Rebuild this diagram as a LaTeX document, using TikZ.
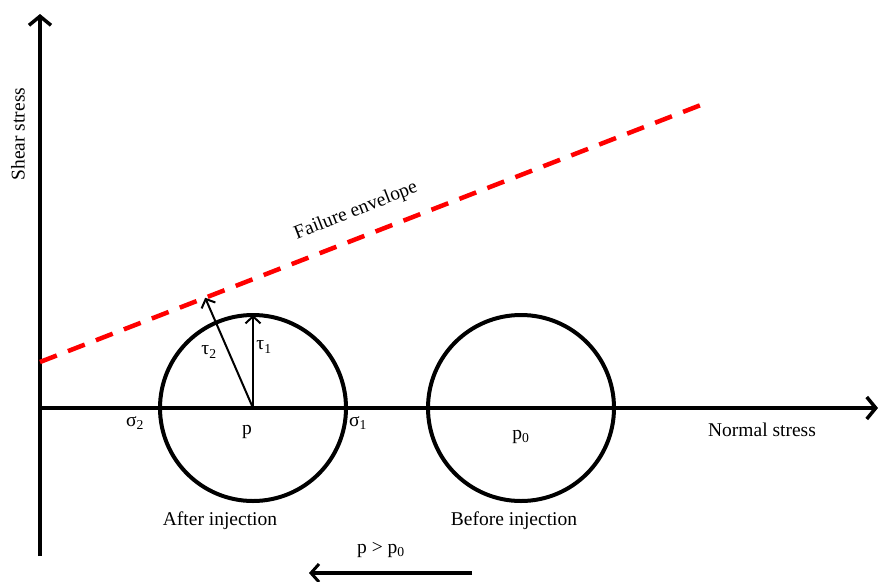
\documentclass[tikz,border=0pt]{standalone}
\usepackage{fontspec}
\setmainfont{Liberation Serif}
\usetikzlibrary{arrows.meta,calc}
\begin{document}
\begin{tikzpicture}[x=1pt,y=-1pt,
  axis/.style={line width=4pt,-{Straight Barb[length=9pt,width=22pt,line width=3.5pt]}},
  mohr/.style={circle,draw,line width=4pt,minimum size=186pt,inner sep=0pt,outer sep=0pt},
  tau/.style={line width=2pt,-{Straight Barb[length=7pt,width=15pt,line width=2pt]}},
  envelope/.style={red,line width=4.5pt,dash pattern=on 18pt off 12pt},
  lbl/.style={font=\fontsize{19.5}{22}\selectfont,inner sep=1pt},
  shiftarrow/.style={line width=3.5pt,-{Straight Barb[length=8pt,width=18pt,line width=3pt]}}]
\useasboundingbox (0,0) rectangle (878,581);
% axes
\coordinate (ybot) at (40,556);
\coordinate (ytop) at (40,14);
\coordinate (xorg) at (38,408);
\coordinate (xend) at (878,408);
\draw[axis] (ybot) -- (ytop);
\draw[axis] (xorg) -- (xend);
% circles
\node[mohr] (after) at (253,408) {};
\node[mohr] (before) at (521,408) {};
% envelope
\coordinate (e1) at (40,362);
\coordinate (e2) at (706,103);
\draw[envelope] (e1) -- (e2);
\coordinate (t2) at ($(e1)!0.248!(e2)$);
% tau arrows
\draw[tau] (after.center) -- (after.north);
\draw[tau] (after.center) -- (t2);
% labels
\node[lbl] (ltau2) at (209,352) {τ\textsubscript{2}};
\node[lbl] (ltau1) at (264,347) {τ\textsubscript{1}};
\node[lbl] (lsig2) at (135,423) {σ\textsubscript{2}};
\node[lbl] (lsig1) at (358,423) {σ\textsubscript{1}};
\node[lbl] (lp) at (247,432) {p};
\node[lbl] (lp0) at (521,437) {p\textsubscript{0}};
\node[lbl] (lafter) at (220,521) {After injection};
\node[lbl] (lbefore) at (514,521) {Before injection};
\node[lbl] (lpp) at (381,550) {p > p\textsubscript{0}};
\node[lbl] (lnormal) at (762,430) {Normal stress};
\node[lbl,rotate=90] (lshear) at (18,134) {Shear stress};
\node[lbl,rotate=21.3] (lfail) at (356,211) {Failure envelope};
% shift arrow
\coordinate (s1) at (472,573);
\coordinate (s2) at (309,573);
\draw[shiftarrow] (s1) -- (s2);
\end{tikzpicture}
\end{document}
